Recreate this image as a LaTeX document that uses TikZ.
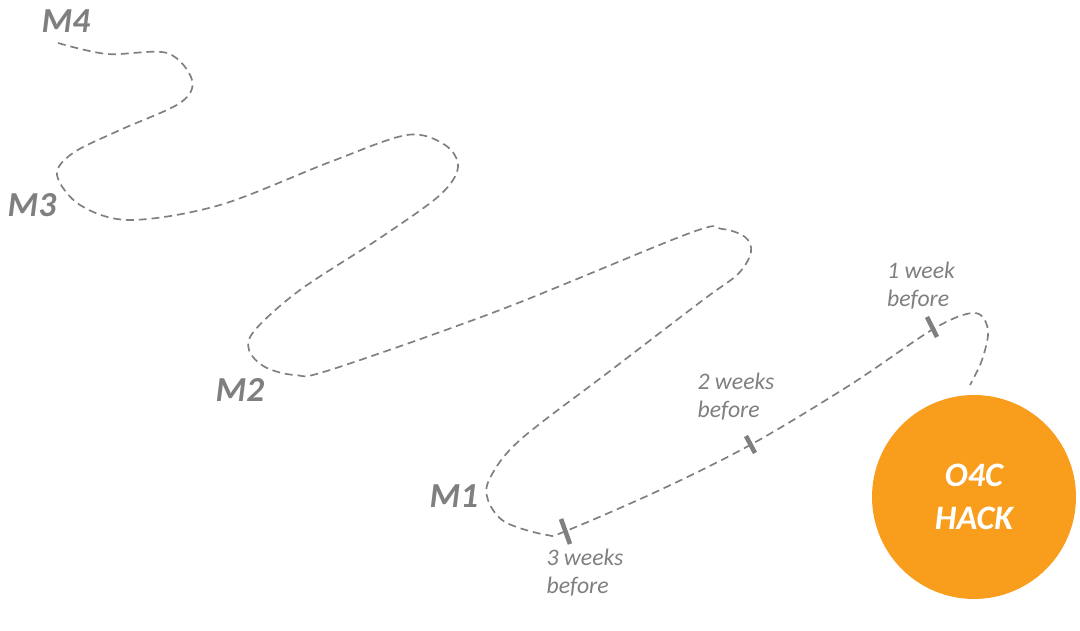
\documentclass[tikz,border=0pt]{standalone}
\usepackage{fontspec}
\setmainfont{Carlito}
\usetikzlibrary{positioning}
\definecolor{hackorange}{HTML}{F99D1C}
\definecolor{roadgray}{HTML}{7F7F7F}

\begin{document}
\begin{tikzpicture}[x=0.02cm,y=-0.02cm,
    milestone/.style={text=roadgray,font=\fontsize{20}{24}\selectfont\bfseries\itshape},
    weeks/.style={text=roadgray,align=left,inner sep=0pt,font=\fontsize{13.5}{16}\selectfont\itshape},
    weektick/.style={draw=roadgray,line width=2.6pt},
    road/.style={draw=roadgray,line width=0.95pt,dash pattern=on 4.5pt off 2.8pt}]
      \useasboundingbox (0,0) rectangle (1080,631);
      % the hack itself
      \node[circle,fill=hackorange,minimum size=4.08cm,inner sep=0pt,text=white,align=center,
            font=\fontsize{19.5}{24.5}\selectfont\bfseries\itshape] (hack) at (974,497) {O4C\\HACK};
      % the road from M4 down to the hack
      \draw[road] plot[smooth,tension=0.55] coordinates {
        (58,43) (107,54) (167,53) (192,80) (180,103) (120,130) (73,153) (57,175)
        (80,205) (130,220) (220,205) (330,162) (407,135) (445,145) (458,167) (440,195)
        (380,238) (300,290) (255,330) (249,350) (265,367) (295,375) (330,370) (500,310)
        (690,233) (722,229) (745,237) (751,252) (738,274) (703,300) (610,371) (520,440)
        (490,478) (488,500) (505,522) (547,535) (566,531) (660,490) (752,444) (850,385)
        (935,328) (975,313) (988,330) (982,360) (970,385)};
      % milestones
      \node[milestone] (m4) at (66,21) {M4};
      \node[milestone] (m3) at (32,205) {M3};
      \node[milestone] (m2) at (240,390) {M2};
      \node[milestone] (m1) at (454,496) {M1};
      % weeks before the hack
      \draw[weektick] (561,519) -- (570,544);
      \draw[weektick] (746,436) -- (755,453);
      \draw[weektick] (927,317) -- (937,337);
      \node[weeks] (w3) at (585,573) {3 weeks\\before};
      \node[weeks] (w2) at (736,397) {2 weeks\\before};
      \node[weeks] (w1) at (921,286) {1 week\\before};
\end{tikzpicture}
\end{document}
